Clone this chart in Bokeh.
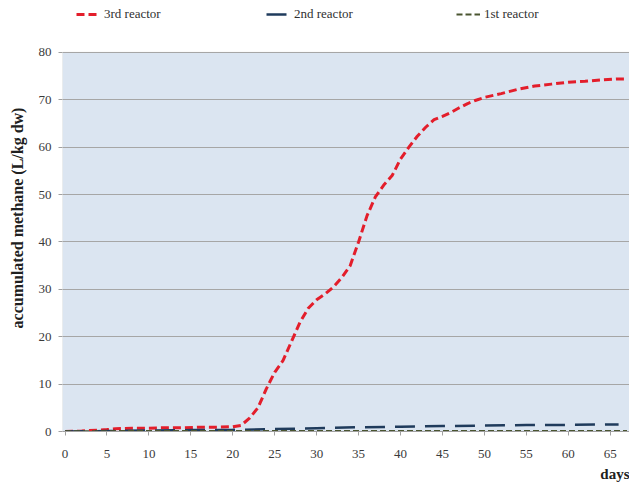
from bokeh.plotting import figure
from bokeh.models import Range1d, Legend, LegendItem, FixedTicker, BoxAnnotation, Title
from bokeh.embed import file_html
from bokeh.resources import INLINE

# ---- data ----
r3_days = [0, 2, 4, 5, 6, 8, 10, 12, 14, 16, 18, 20, 21, 22, 23, 24, 25, 26, 27, 28,
           29, 30, 31, 32, 33, 34, 35, 36, 37, 38, 39, 40, 41, 42, 43, 44, 45, 46, 47,
           48, 49, 50, 52, 54, 56, 58, 60, 62, 64, 66, 67]
r3_vals = [0, 0.1, 0.3, 0.4, 0.6, 0.7, 0.7, 0.8, 0.8, 0.9, 0.9, 1.0, 1.3, 2.8, 5.0, 9.0,
           12.5, 15.0, 19.0, 23.0, 26.0, 27.8, 29.0, 30.5, 32.5, 35.0, 40.0, 45.5, 49.5,
           52.0, 54.0, 57.5, 60.0, 62.3, 64.2, 65.8, 66.5, 67.3, 68.3, 69.2, 69.9, 70.5,
           71.3, 72.2, 72.9, 73.3, 73.7, 73.9, 74.2, 74.4, 74.4]

r2_days = [0, 5, 10, 15, 20, 25, 30, 35, 40, 45, 50, 55, 60, 66]
r2_vals = [0, 0.1, 0.2, 0.3, 0.35, 0.5, 0.7, 0.9, 1.0, 1.15, 1.25, 1.35, 1.4, 1.5]

r1_days = [0, 10, 20, 30, 40, 50, 60, 67]
r1_vals = [0.05, 0.1, 0.1, 0.1, 0.1, 0.1, 0.1, 0.1]

x_ticks = list(range(0, 70, 5))
y_ticks = list(range(0, 90, 10))

SERIF = "Liberation Serif"

p = figure(width=629, height=489, output_backend="svg", toolbar_location=None,
           x_range=Range1d(-0.3, 67.3), y_range=Range1d(0, 90.1),
           min_border_left=62, min_border_right=0, min_border_top=4,
           min_border_bottom=58)

p.background_fill_color = "white"
p.border_fill_color = "white"
p.outline_line_color = None

# plot-area panel (0..80) in light blue, drawn beneath the grid
area = BoxAnnotation(bottom=0, top=80, right=68, fill_color="#dbe5f1", fill_alpha=1,
                     line_color="#a0a0a0", line_width=1, level="image")
p.add_layout(area)

p.xgrid.grid_line_color = None
p.ygrid.grid_line_color = "#a6a6a6"
p.ygrid.grid_line_width = 1

for ax in (p.xaxis[0], p.yaxis[0]):
    ax.axis_line_color = "#a0a0a0"
    ax.major_tick_line_color = "#a0a0a0"
    ax.minor_tick_line_color = None
    ax.major_tick_in = 0
    ax.major_tick_out = 4
    ax.major_label_text_font = SERIF
    ax.major_label_text_font_size = "13px"
    ax.major_label_text_color = "#3a3a3a"
    ax.axis_label_text_font = SERIF
    ax.axis_label_text_font_size = "16px"
    ax.axis_label_text_font_style = "bold"
    ax.axis_label_text_color = "#202020"

p.yaxis.axis_line_color = None
p.xaxis.ticker = FixedTicker(ticks=x_ticks)
p.yaxis.ticker = FixedTicker(ticks=y_ticks)
p.xaxis.major_label_standoff = 14
p.yaxis.major_label_standoff = 7

p.yaxis.axis_label = "accumulated methane (L/kg dw)"
p.yaxis.axis_label_standoff = 10

days_title = Title(text="days", align="right", offset=0, standoff=6,
                   text_font=SERIF, text_font_size="15px", text_font_style="bold",
                   text_color="#202020")
p.add_layout(days_title, "below")

l3 = p.line(r3_days, r3_vals, line_color="#e31e2b", line_width=3, line_dash="8 4")
l2 = p.line(r2_days, r2_vals, line_color="#1f3b5c", line_width=2.5, line_dash="20 10")
l1 = p.line(r1_days, r1_vals, line_color="#4a5530", line_width=2, line_dash="6 3")

legend = Legend(items=[LegendItem(label="3rd reactor", renderers=[l3]),
                       LegendItem(label="2nd reactor", renderers=[l2]),
                       LegendItem(label="1st reactor", renderers=[l1])],
                orientation="horizontal", location=(14, 409),
                glyph_width=24, glyph_height=16, label_height=16,
                label_standoff=4, label_width=90, spacing=72,
                padding=0, margin=0,
                label_text_font=SERIF, label_text_font_size="13px",
                label_text_color="#303030",
                background_fill_alpha=0, border_line_color=None)
p.add_layout(legend, "center")

open("out.html", "w").write(file_html(p, INLINE))
